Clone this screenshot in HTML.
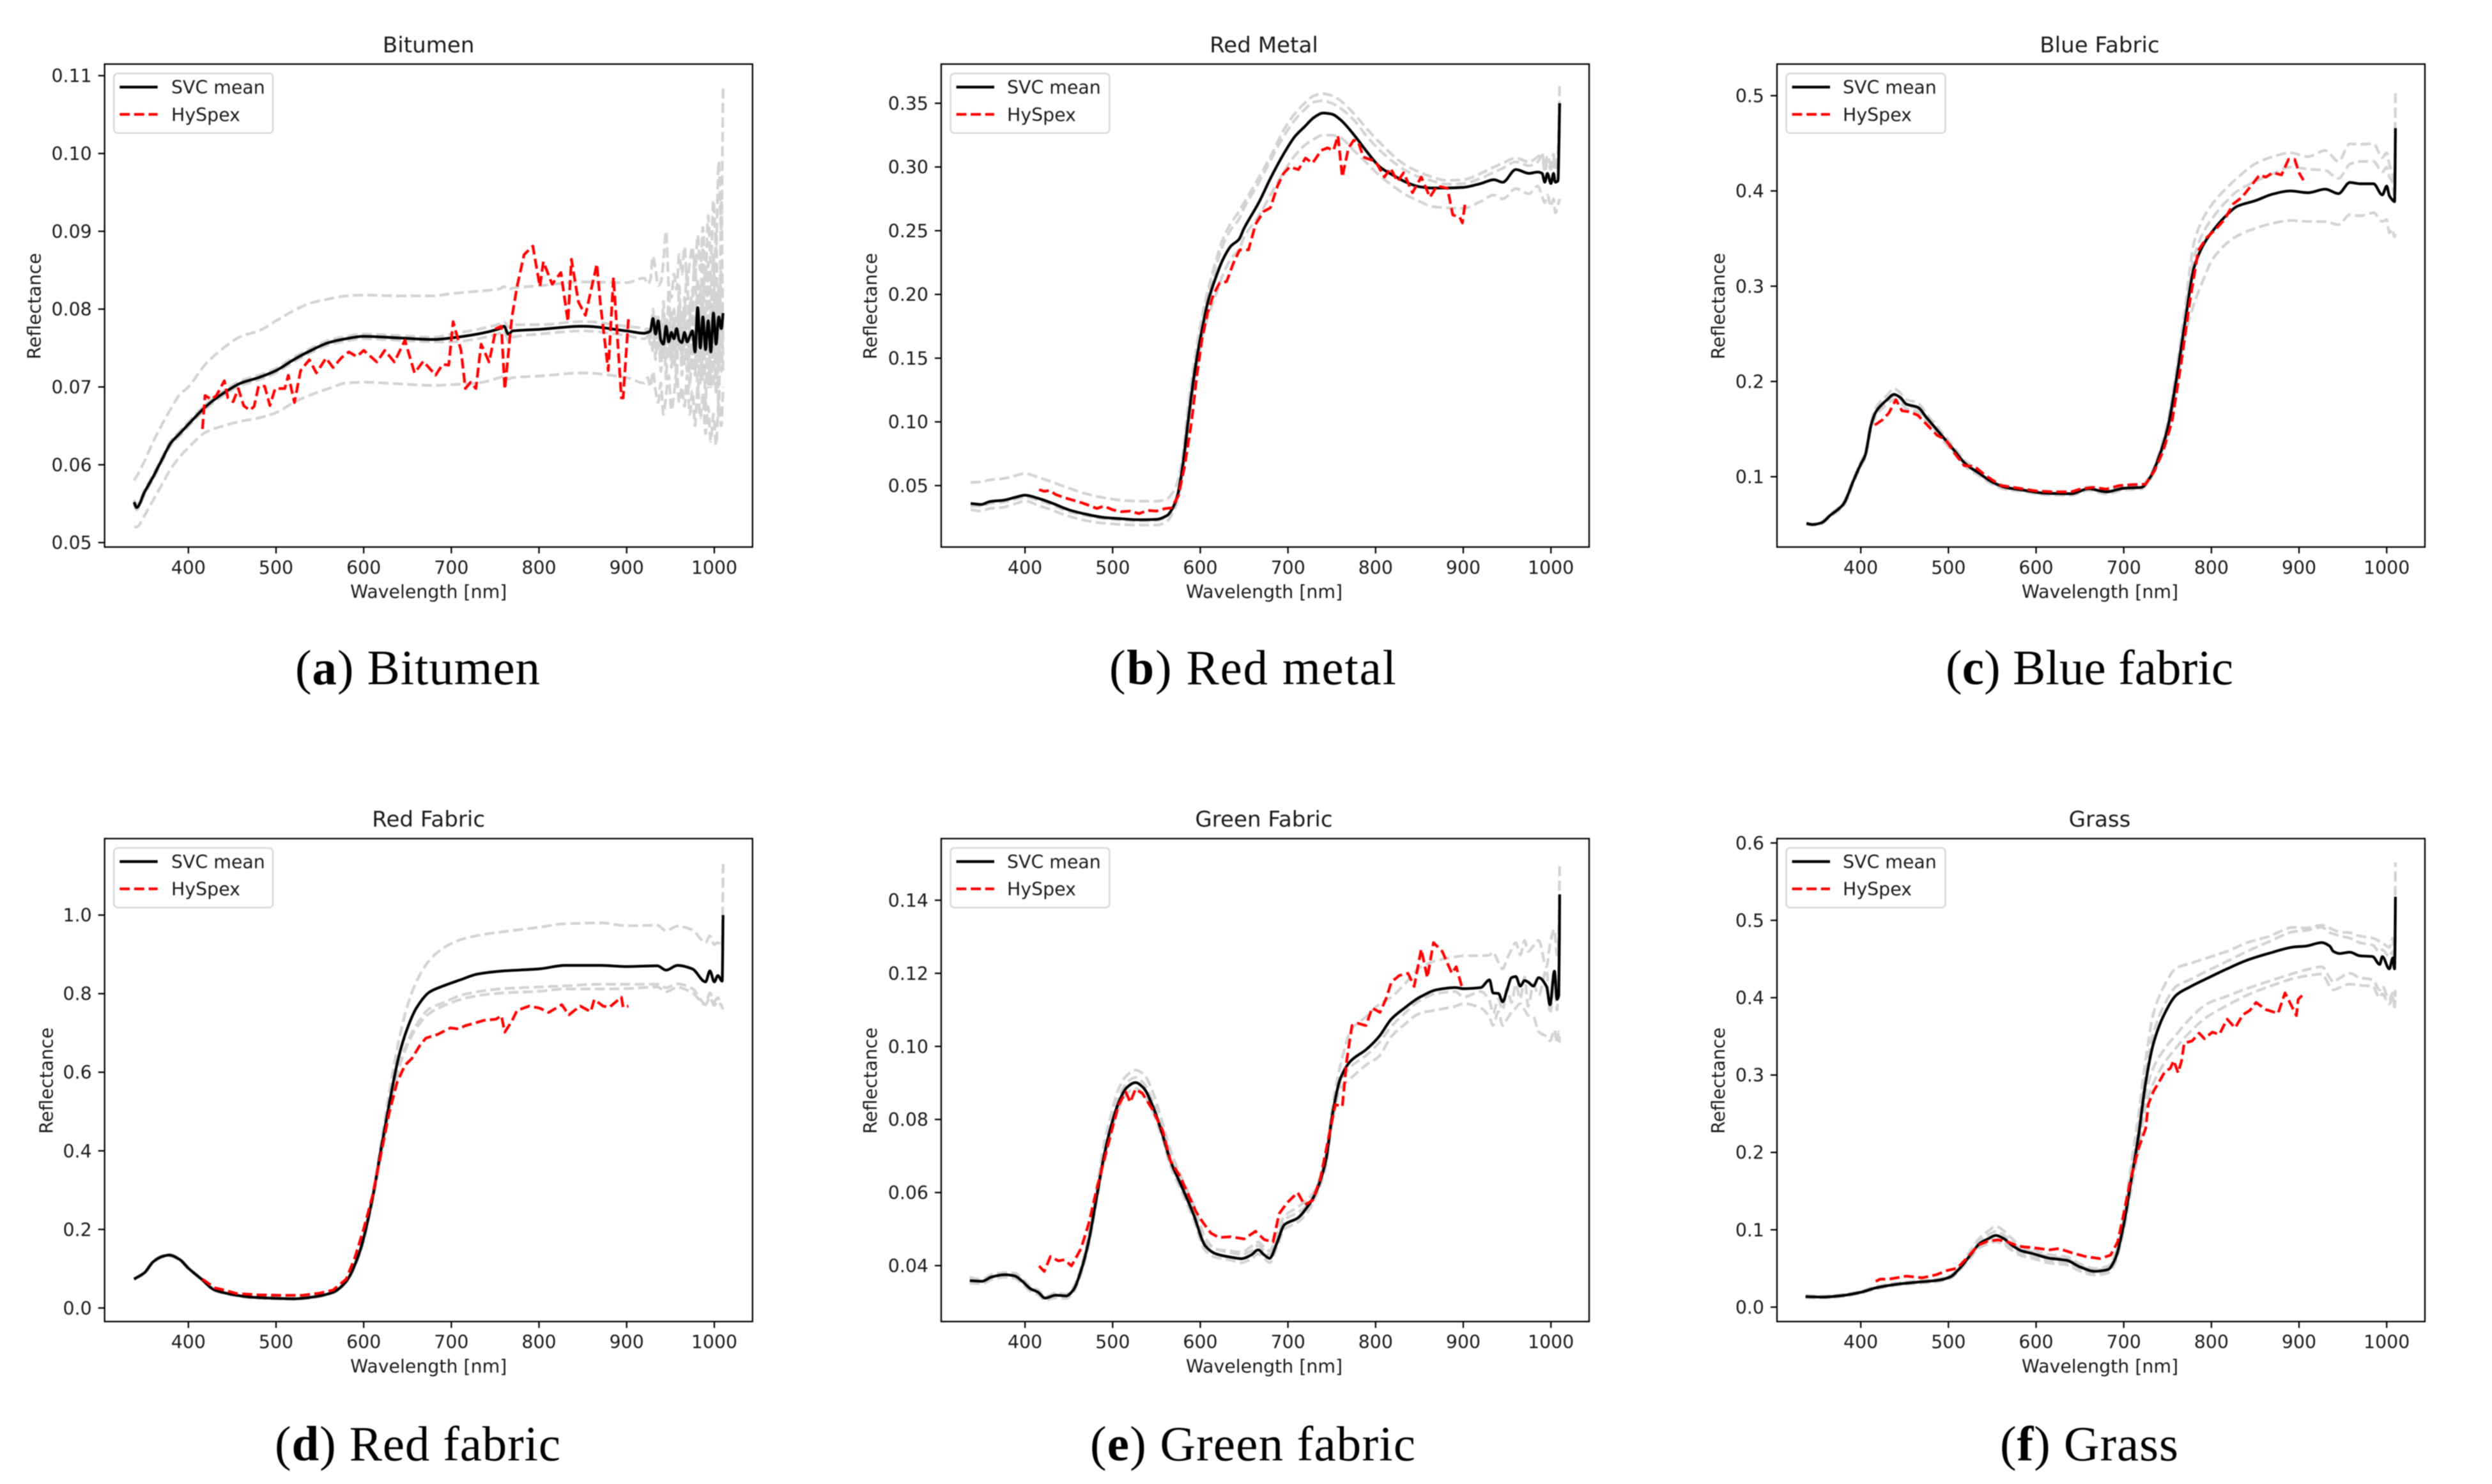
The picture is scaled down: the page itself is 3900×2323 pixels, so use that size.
<!DOCTYPE html>
<html lang="en">
<head>
<meta charset="utf-8">
<title>Reflectance spectra</title>
<style>
html,body{margin:0;padding:0;background:#fff;}
svg{display:block;filter:blur(0.7px);}
.mpl{font-family:"DejaVu Sans",sans-serif;fill:#1a1a1a;}
.tick{font-size:28.4px;}
.title{font-size:34.1px;text-anchor:middle;}
.axis-label{font-size:28.4px;text-anchor:middle;}
.legend-text{font-size:28.4px;}
.caption{font-family:"Liberation Serif",serif;font-size:77px;fill:#000;}
.spine{fill:none;stroke:#000;stroke-width:2.3;}
.legend-box{fill:#fff;fill-opacity:.8;stroke:#d6d6d6;stroke-width:2.3;}
</style>
</head>
<body>
<svg id="figure" xmlns="http://www.w3.org/2000/svg" width="3900" height="2323" viewBox="0 0 3900 2323">
<rect width="3900" height="2323" fill="#fff"/>

<g id="panel-a" transform="translate(163.7,100.3)">
<g class="marks"></g>
<rect class="spine" width="1014" height="756"/>
<g class="ticks"></g>
<text class="mpl title" x="507" y="-18.5">Bitumen</text>
<text class="mpl axis-label" x="507" y="835.5">Wavelength [nm]</text>
<text class="mpl axis-label" transform="translate(-100,379) rotate(-90)">Reflectance</text>
<g>
<rect class="legend-box" x="14.5" y="14.7" width="249" height="93.3" rx="6"/>
<line x1="23.6" x2="83" y1="36" y2="36" stroke="#000" stroke-width="4.3"/>
<text class="mpl legend-text" x="104.3" y="46.4">SVC mean</text>
<line x1="23.6" x2="83" y1="78.7" y2="78.7" stroke="#f00" stroke-width="4.3" stroke-dasharray="15.8 6.8"/>
<text class="mpl legend-text" x="104.3" y="89">HySpex</text>
</g>
</g>

<g id="panel-b" transform="translate(1473,100.3)">
<g class="marks"></g>
<rect class="spine" width="1014" height="756"/>
<g class="ticks"></g>
<text class="mpl title" x="505" y="-18.5">Red Metal</text>
<text class="mpl axis-label" x="505.5" y="835.5">Wavelength [nm]</text>
<text class="mpl axis-label" transform="translate(-101,379) rotate(-90)">Reflectance</text>
<g>
<rect class="legend-box" x="14.5" y="14.7" width="249" height="93.3" rx="6"/>
<line x1="23.6" x2="83" y1="36" y2="36" stroke="#000" stroke-width="4.3"/>
<text class="mpl legend-text" x="103" y="46.4">SVC mean</text>
<line x1="23.6" x2="83" y1="78.7" y2="78.7" stroke="#f00" stroke-width="4.3" stroke-dasharray="15.8 6.8"/>
<text class="mpl legend-text" x="103" y="89">HySpex</text>
</g>
</g>

<g id="panel-c" transform="translate(2781,100.3)">
<g class="marks"></g>
<rect class="spine" width="1014" height="756"/>
<g class="ticks"></g>
<text class="mpl title" x="505" y="-18.5">Blue Fabric</text>
<text class="mpl axis-label" x="505.5" y="835.5">Wavelength [nm]</text>
<text class="mpl axis-label" transform="translate(-82,379) rotate(-90)">Reflectance</text>
<g>
<rect class="legend-box" x="14.5" y="14.7" width="249" height="93.3" rx="6"/>
<line x1="23.6" x2="83" y1="36" y2="36" stroke="#000" stroke-width="4.3"/>
<text class="mpl legend-text" x="103" y="46.4">SVC mean</text>
<line x1="23.6" x2="83" y1="78.7" y2="78.7" stroke="#f00" stroke-width="4.3" stroke-dasharray="15.8 6.8"/>
<text class="mpl legend-text" x="103" y="89">HySpex</text>
</g>
</g>

<g id="panel-d" transform="translate(163.7,1312.7)">
<g class="marks"></g>
<rect class="spine" width="1014" height="756"/>
<g class="ticks"></g>
<text class="mpl title" x="507" y="-18.5">Red Fabric</text>
<text class="mpl axis-label" x="507" y="836">Wavelength [nm]</text>
<text class="mpl axis-label" transform="translate(-81,379) rotate(-90)">Reflectance</text>
<g>
<rect class="legend-box" x="14.5" y="14.7" width="249" height="93.3" rx="6"/>
<line x1="23.6" x2="83" y1="36" y2="36" stroke="#000" stroke-width="4.3"/>
<text class="mpl legend-text" x="104.3" y="46.4">SVC mean</text>
<line x1="23.6" x2="83" y1="78.7" y2="78.7" stroke="#f00" stroke-width="4.3" stroke-dasharray="15.8 6.8"/>
<text class="mpl legend-text" x="104.3" y="89">HySpex</text>
</g>
</g>

<g id="panel-e" transform="translate(1473,1312.7)">
<g class="marks"></g>
<rect class="spine" width="1014" height="756"/>
<g class="ticks"></g>
<text class="mpl title" x="505" y="-18.5">Green Fabric</text>
<text class="mpl axis-label" x="505.5" y="836">Wavelength [nm]</text>
<text class="mpl axis-label" transform="translate(-101,379) rotate(-90)">Reflectance</text>
<g>
<rect class="legend-box" x="14.5" y="14.7" width="249" height="93.3" rx="6"/>
<line x1="23.6" x2="83" y1="36" y2="36" stroke="#000" stroke-width="4.3"/>
<text class="mpl legend-text" x="103" y="46.4">SVC mean</text>
<line x1="23.6" x2="83" y1="78.7" y2="78.7" stroke="#f00" stroke-width="4.3" stroke-dasharray="15.8 6.8"/>
<text class="mpl legend-text" x="103" y="89">HySpex</text>
</g>
</g>

<g id="panel-f" transform="translate(2781,1312.7)">
<g class="marks"></g>
<rect class="spine" width="1014" height="756"/>
<g class="ticks"></g>
<text class="mpl title" x="505" y="-18.5">Grass</text>
<text class="mpl axis-label" x="505.5" y="836">Wavelength [nm]</text>
<text class="mpl axis-label" transform="translate(-82,379) rotate(-90)">Reflectance</text>
<g>
<rect class="legend-box" x="14.5" y="14.7" width="249" height="93.3" rx="6"/>
<line x1="23.6" x2="83" y1="36" y2="36" stroke="#000" stroke-width="4.3"/>
<text class="mpl legend-text" x="103" y="46.4">SVC mean</text>
<line x1="23.6" x2="83" y1="78.7" y2="78.7" stroke="#f00" stroke-width="4.3" stroke-dasharray="15.8 6.8"/>
<text class="mpl legend-text" x="103" y="89">HySpex</text>
</g>
</g>

<text class="caption" x="462" y="1071" textLength="383" lengthAdjust="spacing">(<tspan font-weight="bold">a</tspan>) Bitumen</text>
<text class="caption" x="1736" y="1071" textLength="449" lengthAdjust="spacing">(<tspan font-weight="bold">b</tspan>) Red metal</text>
<text class="caption" x="3045" y="1071" textLength="450" lengthAdjust="spacing">(<tspan font-weight="bold">c</tspan>) Blue fabric</text>
<text class="caption" x="430" y="2286" textLength="447" lengthAdjust="spacing">(<tspan font-weight="bold">d</tspan>) Red fabric</text>
<text class="caption" x="1706" y="2286" textLength="509" lengthAdjust="spacing">(<tspan font-weight="bold">e</tspan>) Green fabric</text>
<text class="caption" x="3130" y="2286" textLength="279" lengthAdjust="spacing">(<tspan font-weight="bold">f</tspan>) Grass</text>
</svg>

<script>
const xTickLabels=['400','500','600','700','800','900','1000'];

/* (a) Bitumen */
const aYTickLabels=['0.05','0.06','0.07','0.08','0.09','0.10','0.11'];
const aWl=[338,341,350,360,370,380,390,400,420,440,
460,480,500,520,540,560,580,600,640,680,
700,730,755,760,765,770,800,850,900,920,
924,927,930,933,936,939,942,945,948,951,
954,957,960,963,966,969,972,975,978,981,
984,987,990,993,996,999,1002,1005,1008,1010];
const aMean=[.0552,.0545,.0565,.0585,.0607,.0628,.0640,.0652,.0675,.0692,
.0705,.0712,.0721,.0735,.0747,.0757,.0762,.0765,.0763,.0761,
.0763,.0768,.0775,.0778,.0768,.0772,.0774,.0778,.0772,.0769,
.0770,.0772,.0788,.0768,.0785,.0760,.0755,.0778,.0758,.0770,
.0762,.0775,.0760,.0757,.0770,.0758,.0765,.0772,.0745,.0802,
.0750,.0790,.0748,.0785,.0745,.0795,.0755,.0790,.0775,.0795];
const aGrayUp=[.0580,.0585,.0605,.0630,.0652,.0672,.0690,.0700,.0730,.0750,
.0765,.0772,.0785,.0798,.0808,.0813,.0817,.0818,.0817,.0817,
.0820,.0823,.0826,.0829,.0825,.0827,.0830,.0835,.0834,.0840,
.0832,.0838,.0868,.0850,.0830,.0835,.0862,.0900,.0830,.0815,
.0845,.0825,.0870,.0845,.0880,.0835,.0860,.0880,.0840,.0895,
.0850,.0905,.0840,.0920,.0860,.0940,.0880,.0990,.0900,.1084];
const aGrayLow=[.0520,.0520,.0535,.0555,.0575,.0595,.0610,.0622,.0642,.0650,
.0656,.0660,.0667,.0680,.0690,.0698,.0705,.0706,.0704,.0702,
.0703,.0705,.0712,.0714,.0710,.0712,.0714,.0718,.0712,.0705,
.0712,.0700,.0720,.0695,.0680,.0705,.0665,.0690,.0715,.0670,
.0690,.0720,.0680,.0700,.0675,.0715,.0665,.0695,.0650,.0700,
.0660,.0690,.0640,.0675,.0630,.0665,.0625,.0680,.0650,.0700];
const aGrayNear1=[.0555,.0548,.0568,.0588,.0610,.0631,.0643,.0655,.0678,.0695,
.0708,.0715,.0724,.0738,.0750,.0760,.0765,.0768,.0766,.0764,
.0768,.0774,.0781,.0784,.0777,.0780,.0780,.0784,.0778,.0775,
.0772,.0765,.0790,.0750,.0775,.0740,.0795,.0755,.0780,.0735,
.0770,.0790,.0745,.0800,.0730,.0775,.0810,.0720,.0790,.0740,
.0830,.0710,.0800,.0730,.0850,.0700,.0820,.0720,.0860,.0760];
const aGrayNear2=[.0549,.0542,.0562,.0582,.0604,.0625,.0637,.0649,.0672,.0689,
.0702,.0709,.0718,.0732,.0744,.0754,.0759,.0762,.0760,.0758,
.0758,.0762,.0769,.0772,.0760,.0764,.0768,.0772,.0766,.0762,
.0765,.0775,.0745,.0790,.0750,.0785,.0735,.0790,.0740,.0800,
.0725,.0770,.0805,.0735,.0815,.0720,.0785,.0825,.0715,.0840,
.0705,.0805,.0850,.0700,.0790,.0870,.0690,.0830,.0720,.0790];
const aGrayNear3=[.0552,.0545,.0565,.0585,.0607,.0628,.0640,.0652,.0675,.0692,
.0705,.0712,.0721,.0735,.0747,.0757,.0762,.0765,.0763,.0761,
.0763,.0768,.0775,.0778,.0768,.0772,.0774,.0778,.0772,.0769,
.0775,.0755,.0800,.0735,.0790,.0720,.0810,.0710,.0825,.0725,
.0800,.0705,.0830,.0715,.0790,.0850,.0700,.0800,.0870,.0690,
.0780,.0880,.0670,.0860,.0700,.0780,.0900,.0660,.0950,.0720];
const aHyWl=[416,419,426,432,441,445,451,457,463,470,
475,480,487,493,499,510,514,521,528,538,
546,557,565,575,583,592,600,615,624,635,
647,658,668,682,690,697,702,711,716,722,
728,734,743,751,757,761,769,775,783,793,
801,805,815,825,833,837,845,853,866,870,
879,885,889,894,896,902];
const aHy=[.0646,.0689,.0684,.0689,.0708,.0686,.0681,.0698,.0676,.0670,
.0675,.0701,.0701,.0676,.0698,.0698,.0715,.0680,.0721,.0735,
.0718,.0737,.0725,.0738,.0745,.0739,.0747,.0732,.0747,.0732,
.0760,.0718,.0733,.0715,.0729,.0728,.0784,.0747,.0698,.0706,
.0698,.0755,.0732,.0775,.0778,.0697,.0789,.0829,.0870,.0881,
.0829,.0861,.0832,.0847,.0784,.0864,.0809,.0792,.0858,.0807,
.0721,.0841,.0772,.0686,.0686,.0787];

/* (b) Red Metal */
const bYTickLabels=['0.05','0.10','0.15','0.20','0.25','0.30','0.35'];
const bWl=[338,350,360,375,390,400,415,430,450,470,
490,510,530,550,562,568,574,580,586,592,
597,603,609,618,626,635,644,650,667,680,
696,708,719,730,740,750,760,775,790,805,
820,835,850,865,880,900,920,935,945,960,
975,985,990,993,996,1000,1003,1005,1008,1010];
const bMean=[.0360,.0352,.0375,.0385,.0410,.0425,.0400,.0365,.0310,.0275,
.0250,.0240,.0232,.0235,.0265,.0318,.0423,.0660,.1000,.1320,
.1540,.1760,.1950,.2140,.2277,.2380,.2431,.2520,.2724,.2910,
.3113,.3240,.3316,.3390,.3423,.3415,.3370,.3255,.3120,.3000,
.2935,.2880,.2845,.2835,.2835,.2840,.2870,.2900,.2880,.2980,
.2950,.2960,.2950,.2880,.2950,.2870,.2950,.2880,.2890,.3500];
const bGrayUp1=[.0525,.0530,.0545,.0555,.0580,.0595,.0565,.0530,.0480,.0435,
.0405,.0385,.0378,.0378,.0395,.0440,.0530,.0740,.1120,.1420,
.1640,.1860,.2040,.2270,.2440,.2560,.2650,.2720,.2920,.3080,
.3300,.3420,.3500,.3560,.3575,.3560,.3520,.3420,.3300,.3190,
.3090,.3010,.2960,.2920,.2895,.2900,.2950,.3000,.3030,.3070,
.3040,.3080,.3110,.3000,.3090,.3020,.3100,.3000,.3120,.3650];
const bGrayUp2=[.0340,.0340,.0360,.0370,.0395,.0410,.0385,.0350,.0295,.0265,
.0240,.0230,.0222,.0225,.0260,.0320,.0430,.0690,.1060,.1370,
.1590,.1810,.2000,.2220,.2390,.2510,.2590,.2680,.2880,.3050,
.3250,.3370,.3450,.3510,.3520,.3500,.3460,.3370,.3240,.3130,
.3040,.2970,.2920,.2890,.2865,.2870,.2910,.2960,.2990,.3040,
.3010,.3040,.3090,.2960,.3050,.2980,.3060,.2970,.3080,.3300];
const bGrayLow=[.0310,.0300,.0320,.0330,.0360,.0380,.0345,.0310,.0260,.0225,
.0205,.0195,.0190,.0190,.0220,.0280,.0380,.0610,.0950,.1260,
.1460,.1680,.1830,.2000,.2160,.2280,.2350,.2450,.2620,.2780,
.2970,.3090,.3170,.3220,.3250,.3250,.3230,.3130,.3030,.2930,
.2850,.2780,.2730,.2690,.2680,.2675,.2730,.2780,.2750,.2830,
.2790,.2850,.2770,.2720,.2780,.2690,.2750,.2640,.2700,.2750];
const bHyWl=[416,422,428,435,445,455,465,475,482,490,
500,510,520,530,540,550,560,567,575,582,
590,596,602,608,615,622,630,638,645,655,
663,672,680,688,695,702,712,720,728,738,
745,752,757,762,769,775,780,786,800,810,
817,825,832,842,852,862,870,882,888,896,
899,902];
const bHy=[.0468,.0455,.0462,.0430,.0405,.0385,.0365,.0340,.0320,.0340,
.0310,.0295,.0300,.0280,.0305,.0300,.0320,.0325,.0420,.0650,
.1000,.1360,.1650,.1850,.2000,.2090,.2100,.2250,.2350,.2350,
.2550,.2650,.2680,.2850,.2950,.3000,.2980,.3070,.3030,.3130,
.3150,.3130,.3245,.2921,.3148,.3210,.3200,.3078,.3043,.2921,
.2990,.2886,.2955,.2798,.2921,.2763,.2851,.2833,.2624,.2606,
.2561,.2711];

/* (c) Blue Fabric */
const cYTickLabels=['0.1','0.2','0.3','0.4','0.5'];
const cWl=[338,345,355,365,380,392,400,405,412,418,
430,438,445,452,465,475,490,505,520,535,
550,565,585,610,640,660,680,700,720,730,
740,750,760,770,780,790,800,815,830,850,
870,890,910,930,945,958,970,985,995,1000,
1003,1006,1009,1010];
const cMean=[.0509,.0498,.0515,.0593,.0710,.0967,.1131,.1224,.1551,.1692,
.1808,.1864,.1832,.1762,.1729,.1621,.1458,.1294,.1131,.1037,
.0944,.0888,.0860,.0827,.0822,.0874,.0841,.0879,.0888,.0991,
.1201,.1505,.2019,.2626,.3187,.3421,.3561,.3724,.3841,.3897,
.3967,.4000,.3981,.4019,.3972,.4089,.4075,.4075,.3958,.4051,
.3950,.3911,.3888,.4659];
const cGrayUp1=[.0515,.0505,.0525,.0605,.0725,.0985,.1155,.1250,.1585,.1735,
.1855,.1925,.1880,.1810,.1775,.1660,.1495,.1325,.1160,.1060,
.0965,.0905,.0875,.0845,.0840,.0895,.0860,.0900,.0910,.1010,
.1240,.1570,.2120,.2770,.3450,.3700,.3850,.4010,.4140,.4285,
.4360,.4400,.4360,.4425,.4310,.4495,.4490,.4495,.4350,.4400,
.4280,.4200,.4100,.5050];
const cGrayUp2=[.0505,.0495,.0512,.0590,.0705,.0960,.1125,.1220,.1540,.1680,
.1800,.1850,.1820,.1750,.1715,.1610,.1450,.1285,.1125,.1030,
.0935,.0880,.0855,.0822,.0818,.0870,.0835,.0875,.0885,.0985,
.1210,.1530,.2060,.2680,.3290,.3550,.3700,.3870,.4000,.4100,
.4180,.4250,.4230,.4215,.4130,.4280,.4310,.4310,.4200,.4250,
.4150,.4100,.3950,.4300];
const cGrayLow=[.0500,.0490,.0505,.0580,.0690,.0945,.1105,.1195,.1515,.1650,
.1760,.1810,.1780,.1715,.1680,.1580,.1420,.1260,.1100,.1010,
.0920,.0865,.0845,.0810,.0805,.0855,.0820,.0860,.0870,.0970,
.1170,.1450,.1930,.2480,.2810,.3050,.3260,.3430,.3530,.3607,
.3660,.3690,.3680,.3678,.3645,.3750,.3740,.3770,.3680,.3700,
.3560,.3600,.3520,.3550];
const cHyWl=[416,425,432,440,447,455,465,475,487,497,
507,518,530,542,560,580,600,620,640,650,
665,680,695,710,725,735,745,755,765,775,
785,795,805,815,825,835,845,855,862,870,
880,888,895,900,905];
const cHy=[.1542,.1598,.1668,.1808,.1692,.1682,.1645,.1551,.1435,.1388,
.1248,.1117,.1107,.1014,.0907,.0879,.0850,.0841,.0841,.0869,
.0888,.0869,.0907,.0916,.0921,.1061,.1271,.1575,.2159,.2813,
.3374,.3514,.3598,.3701,.3864,.3935,.4051,.4168,.4145,.4192,
.4168,.4332,.4332,.4192,.4112];

/* (d) Red Fabric */
const dYTickLabels=['0.0','0.2','0.4','0.6','0.8','1.0'];
const dWl=[338,350,360,370,378,390,400,415,430,450,
470,500,520,545,565,580,595,610,620,630,
640,650,660,675,690,710,730,760,800,830,
870,900,935,945,958,975,990,995,1000,1004,
1009,1010];
const dMean=[.0734,.0900,.1180,.1310,.1346,.1235,.1012,.0734,.0456,.0345,
.0278,.0245,.0235,.0289,.0400,.0679,.1400,.2790,.4070,.5295,
.6400,.7130,.7630,.8040,.8190,.8350,.8500,.8580,.8630,.8720,
.8720,.8690,.8710,.8600,.8720,.8630,.8300,.8580,.8300,.8460,
.8320,1.000];
const dGrayUp=[.0745,.0915,.1195,.1330,.1365,.1250,.1030,.0745,.0470,.0355,
.0290,.0258,.0245,.0300,.0415,.0700,.1450,.2870,.4220,.5600,
.6800,.7700,.8300,.8850,.9150,.9370,.9480,.9580,.9690,.9780,
.9800,.9730,.9740,.9600,.9720,.9620,.9300,.9470,.9250,.9300,
.9200,1.130];
const dGrayLow1=[.0725,.0890,.1165,.1295,.1330,.1220,.1000,.0725,.0445,.0335,
.0268,.0235,.0225,.0278,.0385,.0660,.1360,.2730,.3960,.5150,
.6150,.6770,.7200,.7620,.7760,.7950,.8050,.8130,.8170,.8200,
.8240,.8240,.8240,.8150,.8250,.8130,.7740,.8020,.7800,.7900,
.7700,.7700];
const dGrayLow2=[.0720,.0885,.1160,.1290,.1325,.1215,.0995,.0720,.0440,.0330,
.0262,.0230,.0220,.0272,.0380,.0650,.1340,.2700,.3910,.5090,
.6080,.6700,.7120,.7500,.7680,.7850,.7950,.8020,.8060,.8120,
.8120,.8130,.8170,.8050,.8160,.8020,.7720,.7900,.7700,.7800,
.7650,.7600];
const dHyWl=[416,430,441,455,480,505,530,550,565,580,
590,600,610,618,629,638,647,655,664,671,
684,699,708,716,725,737,751,757,761,769,
775,789,801,811,826,834,847,859,863,873,
880,894,896,902];
const dHy=[.0734,.0512,.0456,.0367,.0334,.0323,.0323,.0378,.0456,.0734,
.1290,.2013,.2848,.3737,.4960,.5740,.6180,.6350,.6680,.6870,
.6960,.7130,.7100,.7186,.7240,.7320,.7350,.7440,.7020,.7300,
.7575,.7686,.7630,.7520,.7720,.7460,.7686,.7540,.7850,.7686,
.7650,.7910,.7650,.7686];

/* (e) Green Fabric */
const eYTickLabels=['0.04','0.06','0.08','0.10','0.12','0.14'];
const eWl=[337,351,362,377,388,397,406,415,423,435,
447,455,464,473,481,490,499,507,516,526,
535,545,557,566,577,592,606,618,635,647,
658,666,673,679,687,696,711,722,731,743,
751,760,772,789,804,818,833,850,870,891,
900,920,930,934,940,945,950,955,960,965,
970,974,980,986,995,999,1004,1007,1009,1010];
const eMean=[.0359,.0357,.0369,.0375,.0372,.0357,.0337,.0327,.0311,.0319,
.0317,.0333,.0387,.0471,.0578,.0698,.0788,.0847,.0887,.0901,
.0887,.0841,.0758,.0686,.0626,.0542,.0453,.0432,.0423,.0419,
.0429,.0443,.0429,.0420,.0459,.0512,.0530,.0560,.0596,.0686,
.0817,.0913,.0961,.0991,.1027,.1075,.1105,.1134,.1155,.1161,
.1158,.1161,.1182,.1146,.1145,.1122,.1155,.1188,.1191,.1165,
.1180,.1176,.1165,.1188,.1164,.1114,.1206,.1129,.1140,.1416];
const eGrayUp=[.0368,.0362,.0376,.0381,.0380,.0365,.0343,.0333,.0315,.0325,
.0322,.0340,.0395,.0490,.0600,.0730,.0820,.0885,.0920,.0935,
.0925,.0880,.0790,.0715,.0650,.0570,.0475,.0445,.0440,.0437,
.0452,.0465,.0450,.0440,.0485,.0535,.0560,.0580,.0608,.0700,
.0840,.0950,.1045,.1081,.1115,.1135,.1170,.1215,.1235,.1245,
.1248,.1248,.1250,.1258,.1230,.1212,.1240,.1265,.1284,.1250,
.1290,.1260,.1275,.1290,.1218,.1280,.1320,.1250,.1310,.1505];
const eGrayMid=[.0360,.0358,.0370,.0376,.0373,.0358,.0338,.0328,.0312,.0320,
.0318,.0335,.0390,.0475,.0585,.0710,.0800,.0860,.0900,.0915,
.0900,.0855,.0770,.0700,.0640,.0555,.0465,.0445,.0435,.0430,
.0440,.0455,.0440,.0430,.0470,.0525,.0545,.0565,.0600,.0690,
.0820,.0905,.0945,.0975,.1010,.1055,.1090,.1125,.1145,.1150,
.1135,.1150,.1125,.1090,.1130,.1100,.1160,.1120,.1170,.1130,
.1190,.1110,.1170,.1140,.1210,.1090,.1180,.1100,.1200,.1300];
const eGrayLow=[.0352,.0350,.0362,.0368,.0365,.0350,.0330,.0320,.0305,.0312,
.0310,.0326,.0378,.0460,.0565,.0685,.0772,.0830,.0870,.0885,
.0870,.0825,.0745,.0672,.0612,.0528,.0440,.0422,.0415,.0408,
.0418,.0432,.0420,.0408,.0448,.0500,.0518,.0545,.0585,.0670,
.0800,.0885,.0913,.0949,.0973,.1027,.1060,.1090,.1100,.1110,
.1117,.1105,.1080,.1057,.1095,.1057,.1075,.1093,.1105,.1117,
.1100,.1085,.1081,.1040,.1027,.1015,.1045,.1009,.1040,.1010];
const eHyWl=[416,422,429,438,445,453,464,473,481,490,
499,507,515,520,526,534,545,557,566,577,
586,595,603,612,621,635,650,663,673,683,
690,699,711,719,728,737,746,754,762,767,
773,780,789,796,805,812,818,827,837,844,
852,859,866,876,887,892,899];
const eHy=[.0399,.0384,.0425,.0413,.0416,.0399,.0447,.0518,.0602,.0686,
.0770,.0841,.0875,.0847,.0883,.0871,.0829,.0770,.0686,.0644,
.0596,.0548,.0518,.0489,.0477,.0479,.0473,.0494,.0471,.0465,
.0542,.0572,.0600,.0566,.0578,.0638,.0746,.0841,.0835,.0961,
.1057,.1063,.1057,.1105,.1093,.1131,.1176,.1194,.1200,.1164,
.1266,.1188,.1284,.1260,.1200,.1218,.1158];

/* (f) Grass */
const fYTickLabels=['0.0','0.1','0.2','0.3','0.4','0.5','0.6'];
const fWl=[337,356,377,400,417,440,464,487,502,513,
525,536,545,554,563,571,583,597,615,635,
650,667,682,690,699,708,717,725,734,746,
760,775,795,818,841,865,894,908,926,935,
939,946,958,969,984,992,995,1003,1007,1009,
1010];
const fMean=[.0136,.0130,.0147,.0192,.0249,.0294,.0322,.0345,.0390,.0503,
.0672,.0825,.0881,.0927,.0887,.0814,.0729,.0689,.0633,.0605,
.0520,.0463,.0486,.0616,.1011,.1605,.2226,.2904,.3412,.3780,
.4034,.4136,.4249,.4373,.4486,.4571,.4655,.4667,.4712,.4667,
.4600,.4571,.4588,.4542,.4531,.4430,.4531,.4373,.4514,.4373,
.5305];
const fGrayUp1=[.0150,.0142,.0160,.0205,.0265,.0310,.0340,.0360,.0410,.0530,
.0730,.0900,.0980,.1045,.0990,.0900,.0790,.0740,.0680,.0650,
.0560,.0500,.0530,.0680,.1120,.1800,.2500,.3200,.3800,.4150,
.4384,.4440,.4514,.4600,.4712,.4790,.4910,.4900,.4938,.4900,
.4880,.4850,.4840,.4797,.4770,.4730,.4712,.4650,.4770,.4500,
.5750];
const fGrayUp2=[.0145,.0135,.0155,.0198,.0258,.0302,.0332,.0352,.0398,.0515,
.0695,.0860,.0930,.0980,.0935,.0850,.0755,.0710,.0650,.0625,
.0535,.0480,.0505,.0650,.1070,.1700,.2350,.3040,.3550,.3900,
.4147,.4230,.4345,.4470,.4600,.4720,.4853,.4870,.4910,.4840,
.4825,.4800,.4770,.4712,.4680,.4590,.4620,.4530,.4600,.4400,
.4800];
const fGrayLow1=[.0128,.0122,.0140,.0185,.0240,.0285,.0312,.0335,.0380,.0490,
.0650,.0790,.0835,.0870,.0835,.0770,.0690,.0650,.0600,.0570,
.0490,.0435,.0455,.0580,.0960,.1520,.2120,.2750,.3100,.3330,
.3525,.3720,.3920,.4020,.4120,.4210,.4316,.4360,.4400,.4260,
.4203,.4250,.4316,.4260,.4232,.4100,.4150,.3977,.4060,.3900,
.4100];
const fGrayLow2=[.0122,.0118,.0135,.0180,.0235,.0280,.0305,.0328,.0372,.0480,
.0635,.0770,.0815,.0845,.0810,.0745,.0665,.0625,.0570,.0545,
.0465,.0415,.0440,.0565,.0940,.1480,.2050,.2600,.2900,.3150,
.3356,.3550,.3751,.3900,.4034,.4140,.4249,.4280,.4305,.4150,
.4100,.4130,.4175,.4160,.4147,.4000,.4050,.3920,.4000,.3880,
.4000];
const fHyWl=[417,422,432,441,452,470,486,499,510,522,
534,545,557,568,580,597,615,626,641,656,
673,685,693,699,708,717,725,728,734,740,
747,753,757,762,766,769,778,786,792,801,
809,818,827,836,844,851,862,876,884,897,
899,904];
const fHy=[.0333,.0362,.0362,.0379,.0401,.0379,.0418,.0475,.0503,.0644,
.0802,.0853,.0870,.0842,.0785,.0768,.0740,.0757,.0701,.0655,
.0627,.0672,.0842,.1153,.1661,.2056,.2311,.2621,.2791,.2904,
.3045,.3085,.3186,.3028,.3186,.3412,.3441,.3542,.3469,.3554,
.3525,.3723,.3610,.3780,.3836,.3938,.3847,.3797,.4062,.3768,
.3977,.4034];

const SVGNS='http://www.w3.org/2000/svg';
const AXES_W=1014, AXES_H=756;
const X_MIN=304.4, X_MAX=1043.6;

const charts=[
 {id:'panel-a',yLim:[.04943,.11149],yLabels:aYTickLabels,wl:aWl,grays:[aGrayUp,aGrayLow,aGrayNear1,aGrayNear2,aGrayNear3],mean:aMean,hyWl:aHyWl,hy:aHy},
 {id:'panel-b',yLim:[.00180,.38074],yLabels:bYTickLabels,wl:bWl,grays:[bGrayUp1,bGrayUp2,bGrayLow],mean:bMean,hyWl:bHyWl,hy:bHy},
 {id:'panel-c',yLim:[.02617,.53318],yLabels:cYTickLabels,wl:cWl,grays:[cGrayUp1,cGrayUp2,cGrayLow],mean:cMean,hyWl:cHyWl,hy:cHy},
 {id:'panel-d',yLim:[-.0345,1.1947],yLabels:dYTickLabels,wl:dWl,grays:[dGrayUp,dGrayLow1,dGrayLow2],mean:dMean,hyWl:dHyWl,hy:dHy},
 {id:'panel-e',yLim:[.02469,.15687],yLabels:eYTickLabels,wl:eWl,grays:[eGrayUp,eGrayMid,eGrayLow],mean:eMean,hyWl:eHyWl,hy:eHy},
 {id:'panel-f',yLim:[-.01864,.60565],yLabels:fYTickLabels,wl:fWl,grays:[fGrayUp1,fGrayUp2,fGrayLow1,fGrayLow2],mean:fMean,hyWl:fHyWl,hy:fHy}
];

function make(tag,attrs){
  const el=document.createElementNS(SVGNS,tag);
  for(const k in attrs) el.setAttribute(k,attrs[k]);
  return el;
}
function xScale(w){return (w-X_MIN)/(X_MAX-X_MIN)*AXES_W;}
function yScale(v,lim){return AXES_H-(v-lim[0])/(lim[1]-lim[0])*AXES_H;}
function pointsFor(xs,ys,lim){
  return xs.map(function(w,i){return xScale(w).toFixed(1)+','+yScale(ys[i],lim).toFixed(1);}).join(' ');
}
/* Monotone cubic through the data points, so the sparse readings draw as the smooth spectra they came from. */
function smoothPath(xs,ys,lim){
  const px=xs.map(xScale);
  const py=ys.map(function(v){return yScale(v,lim);});
  const n=px.length;
  const m=[];
  for(let i=0;i<n-1;i++) m.push((py[i+1]-py[i])/(px[i+1]-px[i]));
  const t=[m[0]];
  for(let i=1;i<n-1;i++){
    if(m[i-1]*m[i]<=0){t.push(0);}
    else{t.push(2*m[i-1]*m[i]/(m[i-1]+m[i]));}
  }
  t.push(m[n-2]);
  let d='M'+px[0].toFixed(1)+' '+py[0].toFixed(1);
  for(let i=0;i<n-1;i++){
    const h=(px[i+1]-px[i])/3;
    d+='C'+(px[i]+h).toFixed(1)+' '+(py[i]+t[i]*h).toFixed(1)+' '+(px[i+1]-h).toFixed(1)+' '+(py[i+1]-t[i+1]*h).toFixed(1)+' '+px[i+1].toFixed(1)+' '+py[i+1].toFixed(1);
  }
  return d;
}

charts.forEach(function(c){
  const root=document.getElementById(c.id);
  const marks=root.querySelector('.marks');
  const ticks=root.querySelector('.ticks');

  xTickLabels.forEach(function(label){
    const x=xScale(parseFloat(label));
    const t=make('line',{x1:x,x2:x,y1:AXES_H,y2:AXES_H+10,stroke:'#000','stroke-width':2.3});
    
    
    ticks.appendChild(t);
    const l=make('text',{x:x,y:AXES_H+42,'text-anchor':'middle','class':'mpl tick'});
    
    
    l.textContent=label;
    ticks.appendChild(l);
  });

  c.yLabels.forEach(function(label){
    const y=yScale(parseFloat(label),c.yLim);
    const t=make('line',{x1:-10,x2:0,y1:y,y2:y,stroke:'#000','stroke-width':2.3});
    
    
    ticks.appendChild(t);
    const l=make('text',{x:-20,y:y+10.3,'text-anchor':'end','class':'mpl tick'});
    
    
    l.textContent=label;
    ticks.appendChild(l);
  });

  c.grays.forEach(function(g){
    const p=make('path',{d:smoothPath(c.wl,g,c.yLim),fill:'none',stroke:'#d3d3d3','stroke-width':4.3,'stroke-dasharray':'15.8 6.8','stroke-linejoin':'round'});
    
    
    marks.appendChild(p);
  });

  const meanLine=make('path',{d:smoothPath(c.wl,c.mean,c.yLim),fill:'none',stroke:'#000','stroke-width':4.3,'stroke-linejoin':'round'});
  
  
  marks.appendChild(meanLine);

  const hyLine=make('polyline',{points:pointsFor(c.hyWl,c.hy,c.yLim),fill:'none',stroke:'#f00','stroke-width':4.3,'stroke-dasharray':'15.8 6.8','stroke-linejoin':'round'});
  
  
  marks.appendChild(hyLine);
});
</script>
</body>
</html>
